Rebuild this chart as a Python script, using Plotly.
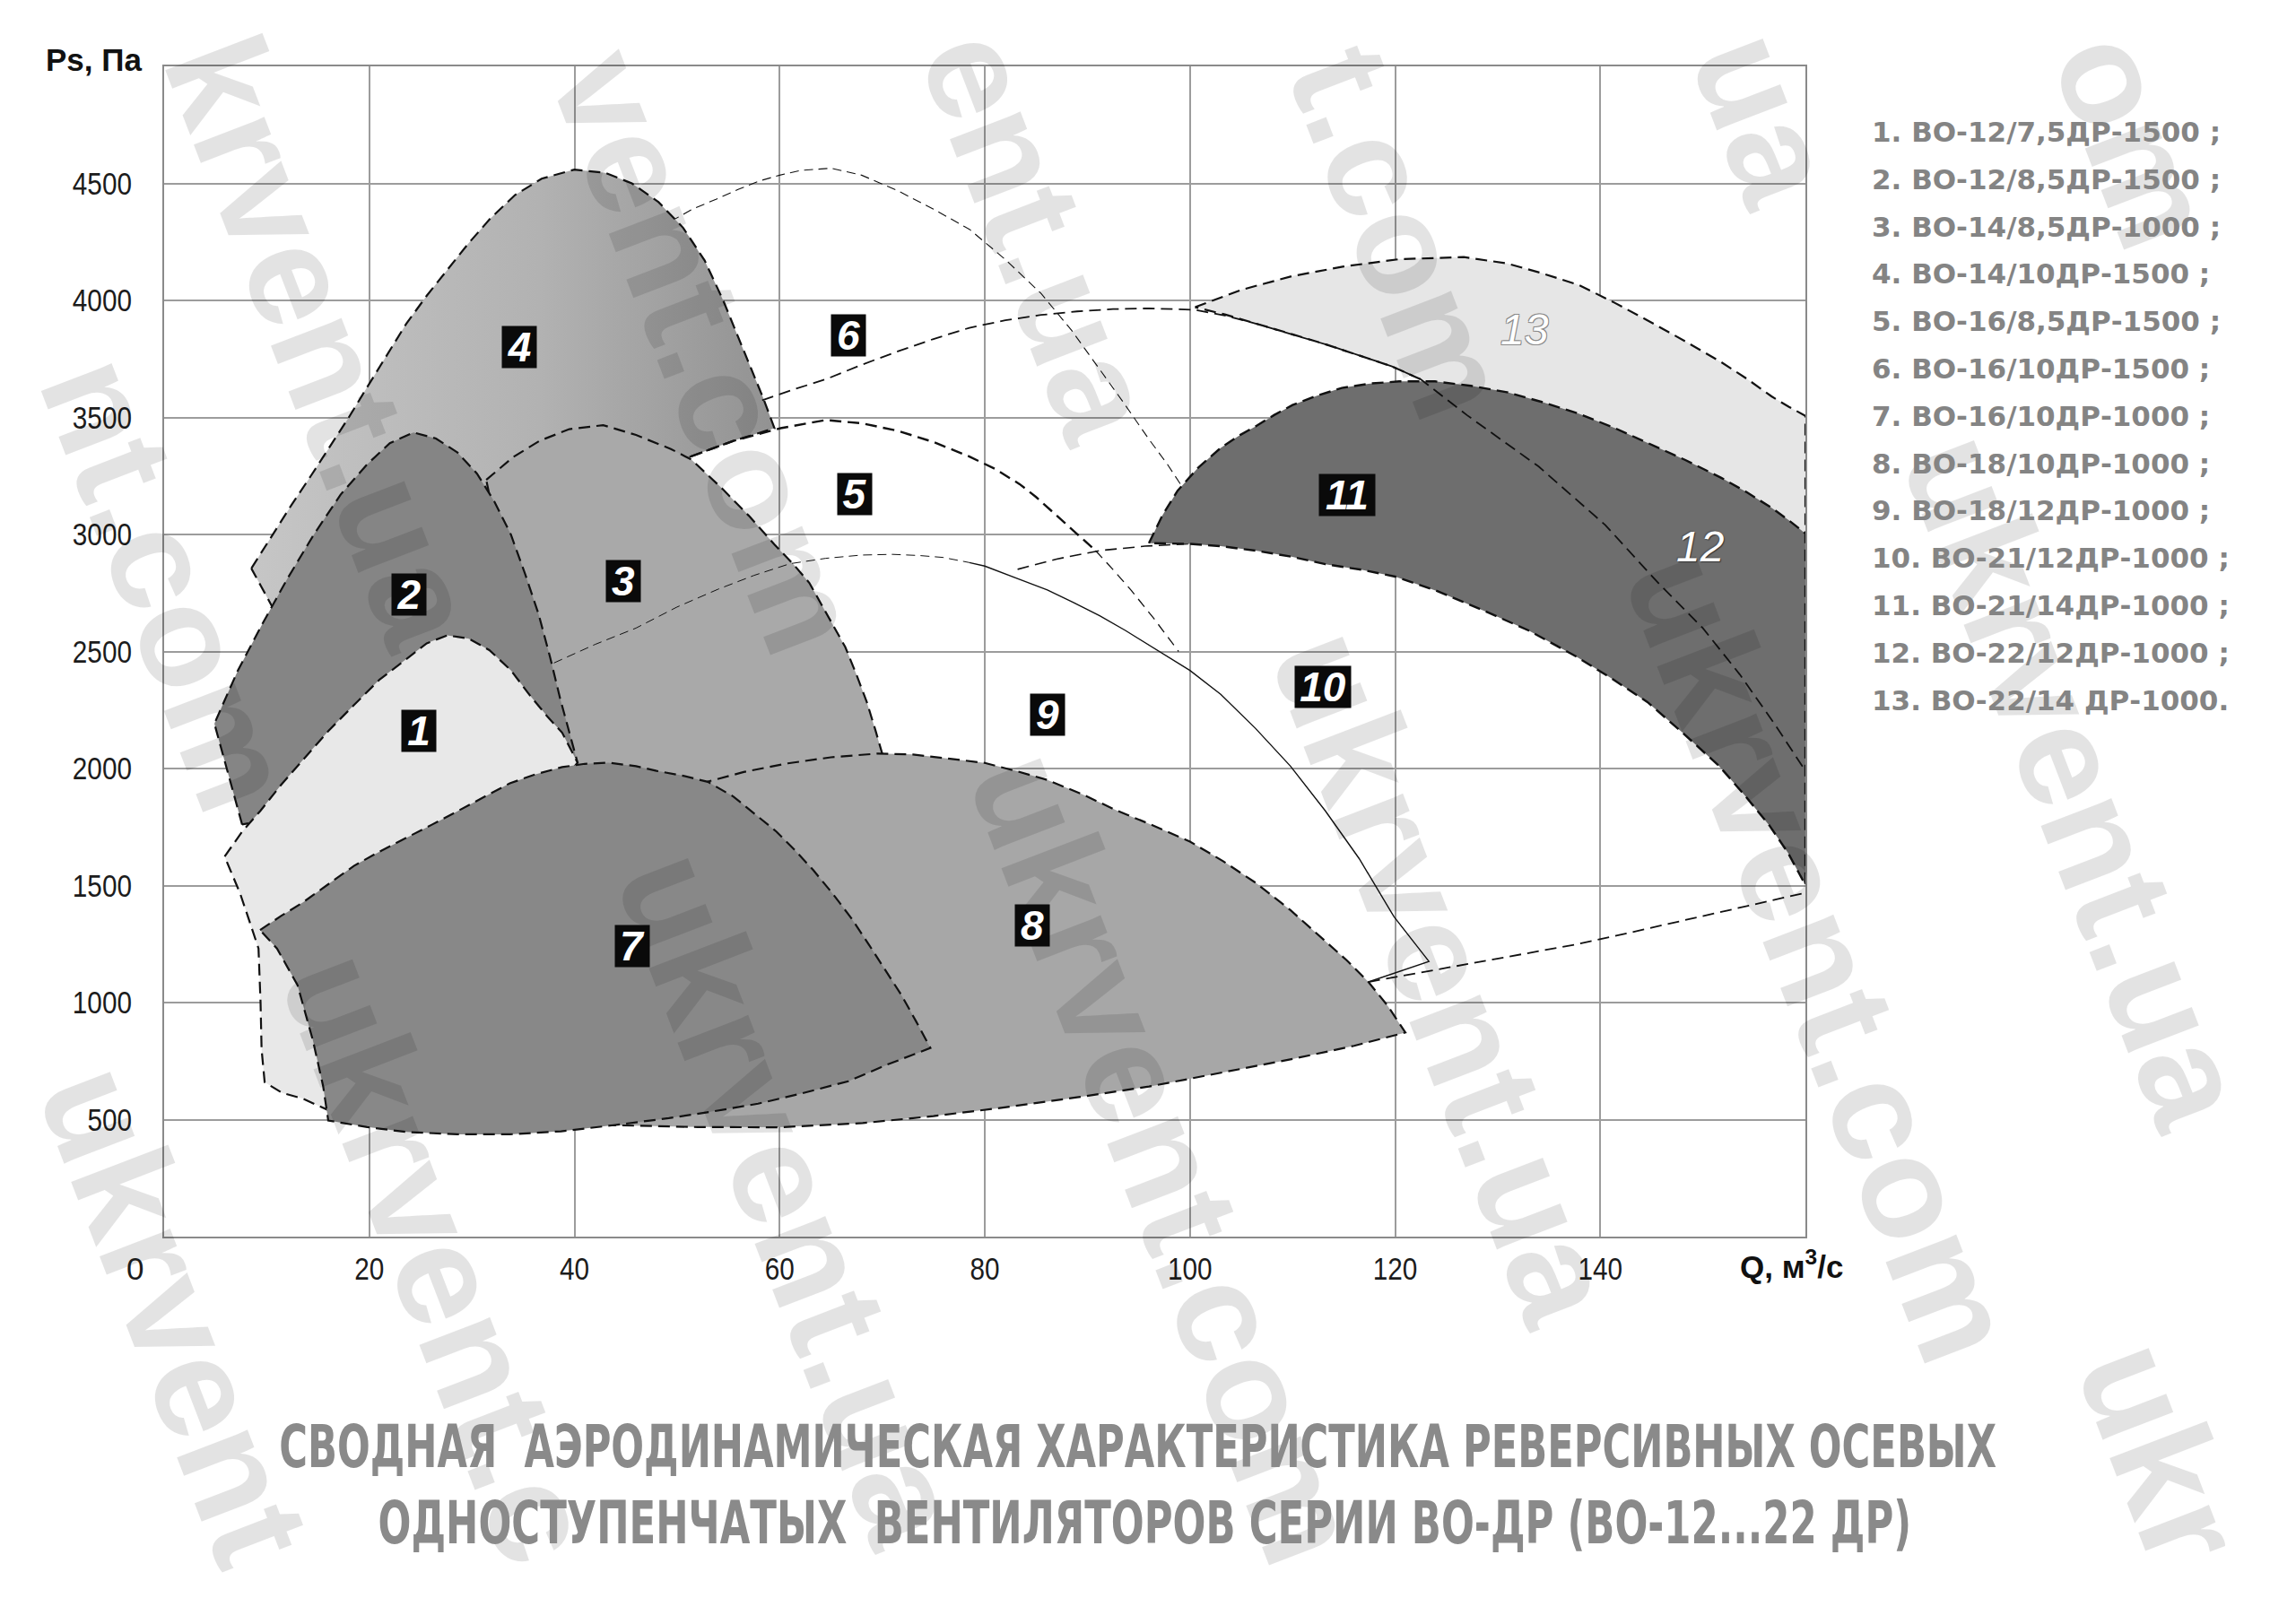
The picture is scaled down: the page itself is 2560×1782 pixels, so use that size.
import plotly.graph_objects as go

W, H = 2560, 1782
ML, MR, MT, MB = 183, 547, 74, 403
PW, PH = W - ML - MR, H - MT - MB

# ---------------- data (Q, м3/с ; Ps, Па) ----------------
X_TICKS = [20, 40, 60, 80, 100, 120, 140]
Y_TICKS = [500, 1000, 1500, 2000, 2500, 3000, 3500, 4000, 4500]

# region 4 (lower part hidden behind 2 and 3)
R4_Q = [8.5, 10.6, 12.4, 14.3, 16.2, 18.0, 19.8, 21.6, 23.6, 25.6, 27.6, 29.6, 31.8, 34.2, 36.8, 40.0,
        43.0, 45.6, 48.2, 50.6, 52.7, 54.5, 55.9, 57.1, 58.4, 59.5, 55.5, 51.4, 40.0, 30.0, 10.9, 8.5]
R4_P = [2855, 3000, 3125, 3250, 3380, 3500, 3630, 3760, 3900, 4020, 4130, 4240, 4350, 4450, 4520, 4559,
        4545, 4500, 4420, 4310, 4170, 4000, 3850, 3720, 3583, 3454, 3400, 3334, 3100, 2800, 2662, 2855]

# region 2
R2_Q = [7.6, 6.2, 4.9, 7.2, 9.6, 12.0, 14.6, 17.2, 19.8, 22.0, 24.3, 26.5, 28.6, 30.5, 32.2, 33.8,
        35.2, 36.5, 37.6, 38.6, 39.5, 40.3, 7.6]
R2_P = [1761, 1980, 2192, 2420, 2620, 2810, 3000, 3170, 3300, 3390, 3436, 3410, 3350, 3260, 3140, 3000,
        2830, 2660, 2480, 2300, 2150, 2025, 1761]

# region 1
R1_Q = [5.9, 7.6, 9.4, 11.4, 13.5, 16.0, 18.5, 21.0, 23.6, 25.6, 27.6, 29.7, 31.7, 33.8, 35.7, 37.4,
        38.8, 40.3, 25.0, 16.0, 13.5, 11.5, 9.8, 9.5, 9.4, 9.2, 8.3, 7.4, 5.9]
R1_P = [1624, 1730, 1820, 1930, 2035, 2160, 2271, 2380, 2467, 2535, 2569, 2555, 2506, 2420, 2310, 2220,
        2153, 2025, 1200, 540, 590, 614, 660, 800, 1000, 1231, 1350, 1467, 1624]

# region 3
R3_Q = [31.4, 34.0, 36.6, 39.5, 42.8, 46.0, 49.4, 51.4, 54.4, 57.0, 59.5, 61.4, 62.9, 64.7, 66.4, 67.5,
        68.5, 69.3, 70.0, 60.0, 48.0, 37.0, 33.0, 31.4]
R3_P = [3233, 3330, 3400, 3450, 3467, 3425, 3365, 3320, 3196, 3080, 2957, 2870, 2793, 2650, 2519, 2400,
        2284, 2170, 2064, 1950, 1900, 1950, 2900, 3233]

# region 7
R7_Q = [9.35, 11.4, 13.5, 16.0, 18.5, 21.0, 23.6, 26.1, 28.7, 31.2, 33.7, 36.2, 38.8, 41.0, 43.3, 46.0,
        48.0, 50.5, 53.0, 55.5, 57.9, 59.7, 61.4, 63.3, 65.2, 67.0, 68.7, 70.3, 71.9, 73.3, 74.7,
        70.5, 66.7, 62.0, 57.9, 53.5, 49.2, 43.8, 38.7, 33.7, 28.7, 23.6, 19.8, 16.0,
        15.5, 14.5, 13.0, 11.0, 9.35]
R7_P = [1310, 1370, 1427, 1505, 1584, 1645, 1702, 1760, 1820, 1880, 1937, 1975, 2006, 2020, 2025, 2010,
        1990, 1970, 1943, 1880, 1796, 1730, 1655, 1565, 1464, 1360, 1248, 1140, 1030, 920, 806,
        735, 664, 610, 568, 535, 506, 476, 450, 437, 437, 447, 468, 496,
        643, 839, 1075, 1231, 1310]

# region 8
R8_Q = [48.0, 52.4, 56.5, 60.8, 65.0, 69.6, 73.0, 75.9, 80.0, 83.0, 86.1, 89.5, 92.9, 96.5, 100.0,
        103.2, 106.4, 109.8, 113.2, 115.3, 117.4, 119.3, 121.0,
        116.0, 110.0, 103.0, 96.0, 89.0, 82.1, 75.0, 68.1, 60.0, 52.0, 43.8, 48.0, 48.0]
R8_P = [1800, 1937, 1985, 2022, 2048, 2064, 2060, 2046, 2024, 1990, 1951, 1890, 1820, 1755, 1688,
        1605, 1512, 1395, 1264, 1180, 1088, 985, 872,
        815, 759, 700, 641, 595, 553, 515, 485, 467, 468, 476, 800, 1800]

# regions 11 + 12 (dark area)
R11_Q = [96.0, 97.3, 98.8, 100.8, 103.0, 104.7, 106.4, 108.2, 110.0, 112.4, 114.8, 117.6, 120.4, 123.9,
         127.4, 130.9, 134.4, 137.9, 141.4, 144.8, 148.3, 151.8, 154.3, 156.7, 158.4, 160.0,
         160.0, 158.3, 156.5, 154.0, 151.6, 148.1, 144.6, 141.1, 137.6, 133.0, 129.0, 124.0, 120.0,
         116.9, 113.2, 109.9, 106.4, 103.0, 100.0, 96.0]
R11_P = [2963, 3080, 3187, 3285, 3370, 3420, 3462, 3510, 3553, 3593, 3626, 3645, 3654, 3654,
         3635, 3608, 3565, 3516, 3455, 3388, 3318, 3242, 3180, 3114, 3060, 3004,
         1502, 1640, 1756, 1890, 2010, 2150, 2284, 2385, 2480, 2590, 2668, 2760, 2820,
         2848, 2873, 2905, 2931, 2950, 2960, 2963]

# region 13
R13_Q = [100.5, 105.0, 109.9, 115.0, 120.4, 126.7, 130.9, 134.4, 137.9, 141.4, 144.8, 148.3, 151.8,
         154.3, 156.7, 158.4, 160.0, 160.0, 130.0, 122.5, 119.7, 116.5, 113.4, 110.0, 106.4, 103.4, 100.5]
R13_P = [3971, 4045, 4103, 4145, 4176, 4185, 4158, 4115, 4066, 3990, 3910, 3825, 3736,
         3665, 3590, 3545, 3507, 2950, 3300, 3663, 3718, 3765, 3810, 3855, 3901, 3940, 3971]

# open boundary curves
C_HIGH_Q = [49.4, 51.5, 53.8, 56.0, 58.0, 60.0, 62.0, 65.0, 68.0, 71.5, 75.0, 78.5, 82.0, 85.5, 88.5,
            91.0, 93.5, 96.0, 97.8, 99.5]
C_HIGH_P = [4338, 4390, 4432, 4475, 4510, 4535, 4555, 4565, 4535, 4469, 4390, 4304, 4175, 4029, 3870,
            3718, 3565, 3407, 3300, 3187]

C6_Q = [58.3, 61.4, 64.5, 68.0, 71.5, 75.0, 78.5, 82.0, 85.5, 89.0, 92.5, 96.0, 100.5, 103.4, 106.4,
        110.0, 113.4, 116.5, 119.7, 122.5, 127.0, 134.0, 140.5, 145.5, 150.0, 153.6, 157.0, 160.0]
C6_P = [3573, 3620, 3663, 3725, 3782, 3835, 3883, 3915, 3938, 3953, 3963, 3966, 3960, 3935, 3901,
        3855, 3810, 3765, 3718, 3663, 3510, 3290, 3040, 2800, 2600, 2402, 2190, 1990]

C5_Q = [51.4, 55.5, 60.1, 64.5, 68.0, 71.5, 75.0, 78.5, 81.0, 83.4, 85.0, 87.0, 89.0, 90.8]
C5_P = [3334, 3400, 3454, 3489, 3475, 3443, 3395, 3333, 3280, 3215, 3160, 3080, 3000, 2931]
C5T_Q = [90.8, 92.5, 94.3, 96.5, 98.9]
C5T_P = [2931, 2850, 2760, 2640, 2500]

C9D_Q = [38.0, 42.0, 46.0, 50.0, 54.0, 57.5, 61.0, 64.5, 68.0, 71.0, 73.6, 75.9, 78.5]
C9D_P = [2451, 2530, 2600, 2690, 2766, 2825, 2875, 2898, 2912, 2915, 2910, 2902, 2880]
C9S_Q = [78.5, 80.0, 83.0, 86.1, 88.6, 91.2, 93.7, 96.2, 98.1, 100.0, 103.0, 106.4, 109.8, 113.2,
         116.5, 119.9, 123.3, 117.4]
C9S_P = [2880, 2865, 2815, 2763, 2710, 2653, 2590, 2522, 2470, 2419, 2317, 2171, 2010, 1819,
         1615, 1366, 1176, 1088]

C10D_Q = [83.2, 87.0, 91.2, 95.6, 100.0]
C10D_P = [2851, 2895, 2931, 2950, 2960]

C10B_Q = [117.4, 122.0, 127.0, 132.0, 137.6, 143.0, 149.0, 154.5, 160.0]
C10B_P = [1088, 1125, 1165, 1205, 1248, 1300, 1360, 1415, 1469]

# number labels: (text, Q, Ps)
LAB_TXT = ["1", "2", "3", "4", "5", "6", "7", "8", "9", "10", "11"]
LAB_Q = [24.8, 23.9, 44.8, 34.6, 67.3, 66.7, 45.6, 84.6, 86.1, 113.0, 115.3]
LAB_P = [2160, 2745, 2800, 3800, 3172, 3850, 1241, 1328, 2230, 2348, 3170]

LEGEND = ["1. ВО-12/7,5ДР-1500 ;", "2. ВО-12/8,5ДР-1500 ;", "3. ВО-14/8,5ДР-1000 ;",
          "4. ВО-14/10ДР-1500 ;", "5. ВО-16/8,5ДР-1500 ;", "6. ВО-16/10ДР-1500 ;",
          "7. ВО-16/10ДР-1000 ;", "8. ВО-18/10ДР-1000 ;", "9. ВО-18/12ДР-1000 ;",
          "10. ВО-21/12ДР-1000 ;", "11. ВО-21/14ДР-1000 ;", "12. ВО-22/12ДР-1000 ;",
          "13. ВО-22/14 ДР-1000."]

TITLE1 = "СВОДНАЯ&nbsp; АЭРОДИНАМИЧЕСКАЯ ХАРАКТЕРИСТИКА РЕВЕРСИВНЫХ ОСЕВЫХ"
TITLE2 = "ОДНОСТУПЕНЧАТЫХ&nbsp; ВЕНТИЛЯТОРОВ СЕРИИ ВО-ДР (ВО-12...22 ДР)"

# watermark strings and their centre positions on the page (px)
WM_TXT = ["nt.com", "krvent.ua", "vent.com", "ent.ua", "t.com", "ua", "om",
          "ukrvent.com", "ukrvent.ua", "ukrvent.com", "ukrvent.ua", "ukrvent.c", "ukrvent",
          "ukrvent.ua", "ukr"]
WM_X = [188, 360, 788, 1160, 1562, 1968, 2380, 2031, 1612, 1300, 882, 490, 196, 2316, 2410]
WM_Y = [650, 380, 392, 262, 258, 132, 156, 1065, 1089, 1290, 1336, 1402, 1466, 870, 1620]

# ---------------- figure ----------------
fig = go.Figure()
DASH = "13px,7px"
THIN_DASH = "11px,7px"


def region(q, p, color, width=2.2, dash=DASH, gradient=None):
    kw = dict(x=q, y=p, mode="lines", fill="toself", fillcolor=color,
              line=dict(color="#111111", width=width, dash=dash),
              hoverinfo="skip", showlegend=False)
    if gradient is not None:
        kw["fillgradient"] = gradient
    fig.add_trace(go.Scatter(**kw))


def curve(q, p, width=1.3, dash=THIN_DASH):
    fig.add_trace(go.Scatter(x=q, y=p, mode="lines",
                             line=dict(color="#111111", width=width, dash=dash),
                             hoverinfo="skip", showlegend=False))


curve(C_HIGH_Q, C_HIGH_P, 1.1, "10px,6px")
region(R13_Q, R13_P, "#e6e6e6")
region(R4_Q, R4_P, "#b0b0b0",
       gradient=dict(type="horizontal", colorscale=[[0, "#c6c6c6"], [0.55, "#b2b2b2"], [1, "#929292"]]))
curve(C5_Q, C5_P, 2.4, DASH)
curve(C5T_Q, C5T_P, 1.3, THIN_DASH)
curve(C10D_Q, C10D_P, 1.6, DASH)
curve(C10B_Q, C10B_P, 1.8, DASH)
region(R11_Q, R11_P, "#6e6e6e", width=2.4)
curve(C6_Q, C6_P, 1.8, DASH)
region(R3_Q, R3_P, "#a9a9a9")
curve(C9D_Q, C9D_P, 1.0, "10px,6px")
curve(C9S_Q, C9S_P, 1.4, "solid")
region(R2_Q, R2_P, "#858585")
region(R1_Q, R1_P, "#e8e8e8")
region(R8_Q, R8_P, "#a7a7a7")
region(R7_Q, R7_P, "#888888")


def px(xp):
    return (xp - ML) / PW


def py(yp):
    return (MT + PH - yp) / PH


ann = []
for t, xw, yw in zip(WM_TXT, WM_X, WM_Y):
    ann.append(dict(x=px(xw), y=py(yw), xref="paper", yref="paper", text=t, showarrow=False,
                    textangle=69, xanchor="center", yanchor="middle",
                    font=dict(family="Liberation Sans, Arial, sans-serif", size=160,
                              color="rgba(0,0,0,0.11)", weight="bold")))

for t, q, p in zip(LAB_TXT, LAB_Q, LAB_P):
    ann.append(dict(x=q, y=p, xref="x", yref="y", text=t, showarrow=False,
                    bgcolor="#0a0a0a", width=38 if len(t) == 1 else 62, height=46, borderpad=0,
                    font=dict(family="Liberation Sans, Arial, sans-serif", size=46, color="white",
                              weight="bold", style="italic")))
ann.append(dict(x=149.7, y=2950, xref="x", yref="y", text="12", showarrow=False,
                font=dict(family="Liberation Sans, Arial, sans-serif", size=48, color="white",
                          style="italic", shadow="1px 1px 1px #333, -1px -1px 1px #555")))
ann.append(dict(x=132.6, y=3874, xref="x", yref="y", text="13", showarrow=False,
                font=dict(family="Liberation Sans, Arial, sans-serif", size=48, color="white",
                          style="italic",
                          shadow="-1px -1px 0 #8a8a8a, 1px -1px 0 #8a8a8a, -1px 1px 0 #8a8a8a, 1px 1px 0 #8a8a8a")))

AX_FONT = dict(family="Liberation Sans, Arial, sans-serif", size=35, color="#1c1c1c")
ann.append(dict(x=px(150), y=py(1414), xref="paper", yref="paper", text="0", showarrow=False,
                xanchor="center", yanchor="middle", font=AX_FONT))
ann.append(dict(x=px(160), y=py(66), xref="paper", yref="paper", text="Ps, Па", showarrow=False,
                xanchor="right", yanchor="middle",
                font=dict(family="Liberation Sans, Arial, sans-serif", size=35, color="#111", weight="bold")))
ann.append(dict(x=px(1938), y=py(1410), xref="paper", yref="paper", text="Q, м<sup>3</sup>/с",
                showarrow=False, xanchor="left", yanchor="middle",
                font=dict(family="Liberation Sans, Arial, sans-serif", size=35, color="#111", weight="bold")))

for i, t in enumerate(LEGEND):
    ann.append(dict(x=px(2085), y=py(147 + i * 52.8), xref="paper", yref="paper", text=t,
                    showarrow=False, xanchor="left", yanchor="middle",
                    font=dict(family="DejaVu Sans, sans-serif", size=31, color="#848484", weight="bold")))

TFONT = dict(family="DejaVu Sans, sans-serif", size=66, color="#8a8a8a", weight="bold")
ann.append(dict(x=px(1268), y=py(1613), xref="paper", yref="paper", text=TITLE1, showarrow=False,
                xanchor="center", yanchor="middle", font=TFONT))
ann.append(dict(x=px(1276), y=py(1698), xref="paper", yref="paper", text=TITLE2, showarrow=False,
                xanchor="center", yanchor="middle", font=TFONT))

fig.update_layout(
    width=W, height=H, margin=dict(l=ML, r=MR, t=MT, b=MB),
    paper_bgcolor="white", plot_bgcolor="white",
    annotations=ann, showlegend=False,
    xaxis=dict(range=[0, 160], tickvals=X_TICKS, ticktext=[str(v) for v in X_TICKS],
               showgrid=True, gridcolor="#9c9c9c", gridwidth=1.6, zeroline=False,
               showline=True, linecolor="#8a8a8a", linewidth=2, mirror=True,
               ticks="", tickfont=AX_FONT, ticklabelstandoff=4),
    yaxis=dict(range=[0, 5000], tickvals=Y_TICKS, ticktext=[str(v) for v in Y_TICKS],
               showgrid=True, gridcolor="#9c9c9c", gridwidth=1.6, zeroline=False,
               showline=True, linecolor="#8a8a8a", linewidth=2, mirror=True,
               ticks="", tickfont=AX_FONT, ticklabelstandoff=27),
)

JS = """
document.body.style.margin='0';
document.body.style.overflow='hidden';
var gd = document.getElementById('{plot_id}');
// narrow (condensed) title lines, as in the original artwork
var targets = [['СВОДНАЯ', 1915], ['ОДНОСТУПЕНЧАТЫХ', 1710]];
gd.querySelectorAll('text.annotation-text').forEach(function(t){
  var s = t.textContent || '';
  targets.forEach(function(tg){
    if (s.indexOf(tg[0]) === 0) {
      var w = t.getBBox().width;
      if (w > 0) {
        t.style.transformBox = 'fill-box';
        t.style.transformOrigin = 'center';
        t.style.transform = 'scaleX(' + (tg[1] / w).toFixed(4) + ')';
      }
    }
  });
});
// narrow numerals on the axes
gd.querySelectorAll('g.xtick text, g.ytick text').forEach(function(t){
  var w = t.getComputedTextLength();
  if (w > 0) {
    t.setAttribute('lengthAdjust', 'spacingAndGlyphs');
    t.setAttribute('textLength', (w * 0.85).toFixed(1));
  }
});
// drop empty placeholder text nodes
gd.querySelectorAll('text').forEach(function(t){
  if (!(t.textContent || '').trim()) { t.parentNode.removeChild(t); }
});
"""

fig.write_html("out.html", config={"displayModeBar": False}, post_script=JS)
